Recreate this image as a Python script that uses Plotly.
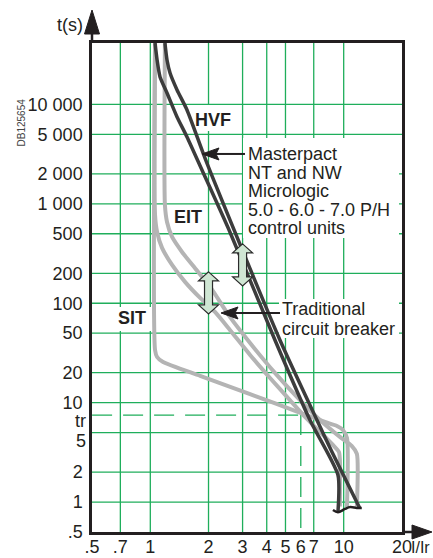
import numpy as np
import plotly.graph_objects as go

# ---------------- data ----------------
X_TICKS = [0.5, 0.7, 1, 2, 3, 4, 5, 6, 7, 10, 20]
X_TICK_TEXT = [".5", ".7", "1", "2", "3", "4", "5", "6", "7", "10", "20"]
Y_TICKS = [0.5, 1, 2, 10, 20, 50, 100, 200, 500, 1000, 2000, 5000, 10000]
Y_TICK_TEXT = [".5", "1", "2", "10", "20", "50", "100", "200", "500",
               "1 000", "2 000", "5 000", "10 000"]
GRID_X = [0.7, 1, 2, 3, 4, 5, 7, 10]
GRID_Y = [1, 2, 5, 10, 20, 50, 100, 200, 500, 1000, 2000, 5000, 10000]
TR = 7.5      # tr level (s)
I_TR = 6      # I/Ir of dashed drop line

# Traditional circuit breaker curves (gray)
SIT_I = [1.058, 1.058, 1.084, 1.164, 1.81, 3.28, 6.16, 8.0, 9.23, 9.91, 10.4, 10.4]
SIT_T = [41500, 33.9, 28.8, 25.6, 18.6, 12.2, 7.7, 6.39, 5.83, 5.31, 4.41, 0.89]
EIT_LO_I = [1.058, 1.058, 1.084, 1.15, 1.296, 1.512, 1.81, 2.16, 2.58, 3.28, 4.16,
            5.27, 6.31, 7.54, 8.80, 9.45, 9.56, 9.56]
EIT_LO_T = [41500, 773, 521, 360, 243, 164, 113, 81.7, 53.9, 30.2, 17.7,
            10.6, 7.18, 5.07, 3.75, 3.19, 2.65, 0.9]
EIT_HI_I = [1.19, 1.19, 1.22, 1.296, 1.459, 1.70, 2.04, 2.58, 3.28, 4.41, 5.94,
            7.54, 9.56, 11.0, 11.7, 11.7]
EIT_HI_T = [41500, 974, 657, 464, 328, 226, 146, 72.8, 39.8, 19.9, 10.6,
            6.69, 4.52, 3.67, 3.05, 0.9]

# Masterpact Micrologic HVF band (dark)
HVF_LO_I = [1.058, 1.084, 1.123, 1.22, 1.375, 1.548, 1.85, 2.58, 4.41, 6.69, 9.34, 9.34]
HVF_LO_T = [41500, 28000, 18900, 13050, 7480, 4710, 2190, 521, 42.7, 6.69, 1.87, 0.79]
HVF_HI_I = [1.19, 1.22, 1.265, 1.375, 1.548, 1.96, 4.68, 7.27, 8.70, 12.1]
HVF_HI_T = [41500, 28000, 20700, 13990, 8800, 2580, 42.7, 6.69, 3.19, 0.87]
TILDE_I = [8.80, 9.34, 10.15, 10.8, 11.7, 12.4]
TILDE_T = [0.832, 0.79, 0.852, 0.89, 0.87, 0.87]

# annotation anchor points (data)
ARROW_MP = (1.85, 3175)       # Masterpact pointer tip
ARROW_TR = (2.32, 79.8)       # Traditional pointer tip
DBL_ARROWS = [(2, 127), (3, 243)]

# ---------------- styling ----------------
FONT = "Liberation Sans, Arial, Helvetica, sans-serif"
INK = "#231f20"
GRAY = "#b4b4b4"
DARK = "#3c3c3c"
GREEN = "#1fae5b"
W, H = 433, 558
ML, MR, MT, MB = 92, 31, 43, 26
PW, PH = W - ML - MR, H - MT - MB


def px2paper_x(p):
    return (p - ML) / PW


def px2paper_y(p):
    return (H - MB - p) / PH


fig = go.Figure()

for xs, ys in [(SIT_I, SIT_T), (EIT_LO_I, EIT_LO_T), (EIT_HI_I, EIT_HI_T)]:
    fig.add_trace(go.Scatter(x=xs, y=ys, mode="lines",
                             line=dict(color=GRAY, width=4, shape="spline", smoothing=0.6),
                             hoverinfo="skip"))
for xs, ys in [(HVF_LO_I, HVF_LO_T), (HVF_HI_I, HVF_HI_T)]:
    fig.add_trace(go.Scatter(x=xs, y=ys, mode="lines",
                             line=dict(color=DARK, width=3.5, shape="spline", smoothing=0.6),
                             hoverinfo="skip"))
fig.add_trace(go.Scatter(x=TILDE_I, y=TILDE_T, mode="lines",
                         line=dict(color=INK, width=2.5, shape="spline", smoothing=1.0),
                         hoverinfo="skip"))

shapes = []
# grid
for gx in GRID_X:
    shapes.append(dict(type="line", xref="x", yref="paper", x0=gx, x1=gx, y0=0, y1=1,
                       line=dict(color=GREEN, width=1.3), layer="below"))
for gy in GRID_Y:
    shapes.append(dict(type="line", xref="paper", yref="y", x0=0, x1=1, y0=gy, y1=gy,
                       line=dict(color=GREEN, width=1.3), layer="below"))
# tr dashed lines
shapes.append(dict(type="line", xref="x", yref="y", x0=0.5, x1=I_TR, y0=TR, y1=TR,
                   line=dict(color=GREEN, width=1.3, dash="20px,11px"), layer="below"))
shapes.append(dict(type="line", xref="x", yref="y", x0=I_TR, x1=I_TR, y0=TR, y1=0.5,
                   line=dict(color=GREEN, width=1.3, dash="20px,11px"), layer="below"))
# white masks behind texts
for (x0, x1, y0, y1) in [(243, 399, 138, 238), (279, 399, 299, 338),
                         (193, 234, 105, 131), (114, 151, 307, 331)]:
    shapes.append(dict(type="rect", xref="paper", yref="paper",
                       x0=px2paper_x(x0), x1=px2paper_x(x1),
                       y0=px2paper_y(y1), y1=px2paper_y(y0),
                       fillcolor="white", line=dict(width=0), layer="below"))

# double arrows (pixel-sized around anchor)
dbl = "M0,21 L10,12 L4,12 L4,-12 L10,-12 L0,-21 L-10,-12 L-4,-12 L-4,12 L-10,12 Z"
for ax_, ay_ in DBL_ARROWS:
    shapes.append(dict(type="path", xref="x", yref="y", xsizemode="pixel", ysizemode="pixel",
                       xanchor=ax_, yanchor=ay_, path=dbl,
                       fillcolor="#cfe6d3", line=dict(color="#2b2b2b", width=1.2)))
# pointer arrows (left pointing)
for (tx, ty), L in [(ARROW_MP, 43), (ARROW_TR, 59)]:
    shapes.append(dict(type="path", xref="x", yref="y", xsizemode="pixel", ysizemode="pixel",
                       xanchor=tx, yanchor=ty, path=f"M14,0 L{L},0",
                       line=dict(color=INK, width=2)))
    shapes.append(dict(type="path", xref="x", yref="y", xsizemode="pixel", ysizemode="pixel",
                       xanchor=tx, yanchor=ty, path="M0,0 L17,6 L14,0 L17,-6 Z",
                       fillcolor=INK, line=dict(color=INK, width=1)))

# axis arrows (paper coords)
shapes.append(dict(type="line", xref="paper", yref="paper", x0=0, x1=0,
                   y0=1, y1=px2paper_y(28), line=dict(color=INK, width=2.5)))
shapes.append(dict(type="path", xref="paper", yref="paper",
                   path=(f"M{px2paper_x(92)},{px2paper_y(10)} L{px2paper_x(99.5)},{px2paper_y(34)} "
                         f"L{px2paper_x(84.5)},{px2paper_y(34)} Z"),
                   fillcolor=INK, line=dict(color=INK, width=1)))
shapes.append(dict(type="line", xref="paper", yref="paper", x0=1, x1=px2paper_x(416),
                   y0=0, y1=0, line=dict(color=INK, width=2.5)))
shapes.append(dict(type="path", xref="paper", yref="paper",
                   path=(f"M{px2paper_x(432)},{px2paper_y(532)} L{px2paper_x(412)},{px2paper_y(525)} "
                         f"L{px2paper_x(412)},{px2paper_y(539)} Z"),
                   fillcolor=INK, line=dict(color=INK, width=1)))

annotations = []


def txt(text, x, y, size=18, bold=False, anchor="center", **kw):
    annotations.append(dict(text=f"<b>{text}</b>" if bold else text, xref="paper", yref="paper",
                            x=px2paper_x(x), y=px2paper_y(y), xanchor=anchor, yanchor="middle",
                            showarrow=False, font=dict(family=FONT, size=size, color=INK), **kw))


txt("HVF", 213, 120, bold=True)
txt("EIT", 188, 217, bold=True)
txt("SIT", 132, 318, bold=True)
for i, line in enumerate(["Masterpact", "NT and NW", "Micrologic",
                          "5.0 - 6.0 - 7.0 P/H", "control units"]):
    txt(line, 246, 154 + i * 18.6, anchor="left")
txt("Traditional", 280, 308.5, anchor="left")
txt("circuit breaker", 280, 328.5, anchor="left")
txt("t(s)", 70, 25)
txt("I/Ir", 431, 547, size=16, anchor="right", borderpad=0)
annotations.append(dict(text="DB125654", xref="paper", yref="paper", x=px2paper_x(13),
                        y=px2paper_y(97), showarrow=False, textangle=-90,
                        font=dict(family=FONT, size=10, color="#444")))
# crowded y labels near tr
for val, lab, shift in [(5, "5", -8), (TR, "tr", -6)]:
    annotations.append(dict(text=lab, xref="paper", yref="y", x=px2paper_x(88),
                            y=np.log10(val), yshift=shift, xanchor="right", yanchor="middle",
                            showarrow=False, font=dict(family=FONT, size=18, color=INK)))

axis_common = dict(type="log", showgrid=False, zeroline=False, showline=True, mirror=True,
                   linecolor=INK, linewidth=2.5, automargin=False,
                   tickcolor="rgba(0,0,0,0)", tickfont=dict(family=FONT, size=18, color=INK))
fig.update_layout(
    width=W, height=H, margin=dict(l=ML, r=MR, t=MT, b=MB, pad=0, autoexpand=False),
    plot_bgcolor="white", paper_bgcolor="white", showlegend=False,
    xaxis=dict(range=[np.log10(0.5) - 0.0005, np.log10(20) + 0.0005],
               tickvals=X_TICKS, ticktext=X_TICK_TEXT, ticks="", ticklabelstandoff=-3,
               **axis_common),
    yaxis=dict(range=[np.log10(0.5) - 0.0005, 4.618], ticks="outside", ticklen=3,
               tickvals=Y_TICKS, ticktext=Y_TICK_TEXT, **axis_common),
    shapes=shapes, annotations=annotations,
)

fig.write_html("out.html")
